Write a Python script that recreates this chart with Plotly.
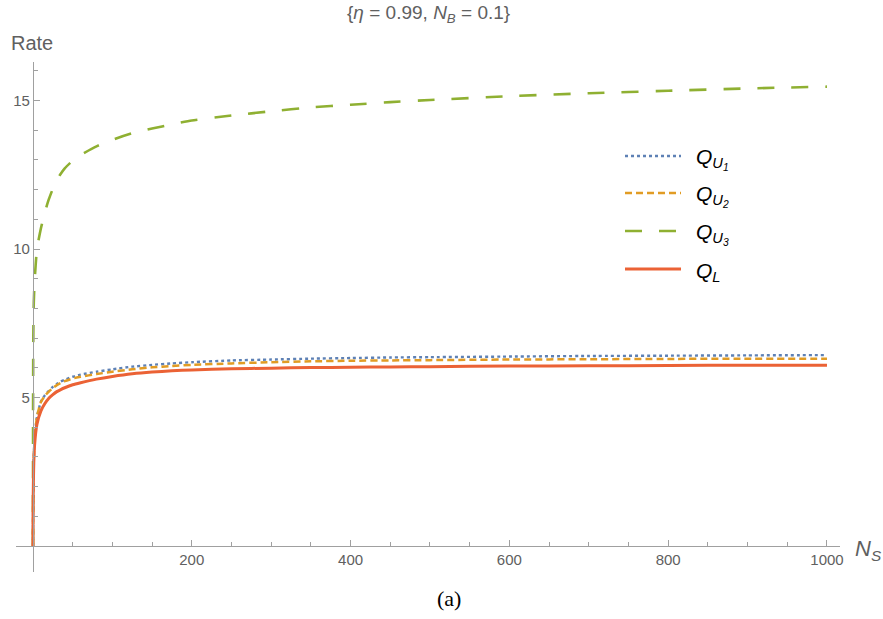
import plotly.graph_objects as go

# ---- data ----
ns = [0, 0.02, 0.1, 0.3, 0.6, 1, 2, 5, 10, 15, 20, 25, 30, 35, 40, 50, 60, 80, 100, 125, 150, 175,
      200, 250, 300, 350, 400, 450, 500, 600, 700, 800, 900, 1000]

q_u1 = [0, 0.45, 1.0, 1.8, 2.4, 2.9, 3.6, 4.35, 4.86, 5.08, 5.23, 5.36, 5.46, 5.54, 5.6, 5.7, 5.77, 5.87,
        5.95, 6.04, 6.1, 6.15, 6.19, 6.25, 6.28, 6.31, 6.33, 6.35, 6.36, 6.38, 6.40, 6.41, 6.42, 6.43]
q_u2 = [0, 0.45, 1.0, 1.8, 2.4, 2.9, 3.6, 4.35, 4.85, 5.06, 5.2, 5.32, 5.42, 5.49, 5.55, 5.64, 5.7, 5.79,
        5.87, 5.95, 6.02, 6.06, 6.1, 6.15, 6.19, 6.22, 6.24, 6.25, 6.26, 6.28, 6.29, 6.30, 6.31, 6.31]
q_u3 = [0, 2.0, 4.5, 6.6, 7.6, 8.2, 8.9, 10.0, 10.7, 11.25, 11.68, 12.03, 12.32, 12.54, 12.72, 12.98,
        13.17, 13.46, 13.68, 13.9, 14.06, 14.2, 14.33, 14.5, 14.64, 14.77, 14.86, 14.95, 15.02, 15.15,
        15.25, 15.33, 15.41, 15.47]
q_l = [0, 0.4, 0.9, 1.7, 2.3, 2.8, 3.4, 4.1, 4.55, 4.8, 4.98, 5.1, 5.2, 5.27, 5.33, 5.43, 5.5, 5.62,
       5.71, 5.8, 5.86, 5.9, 5.93, 5.97, 5.99, 6.01, 6.02, 6.03, 6.04, 6.06, 6.07, 6.08, 6.09, 6.09]

names = ["Q<sub>U<sub>1</sub></sub>", "Q<sub>U<sub>2</sub></sub>",
         "Q<sub>U<sub>3</sub></sub>", "Q<sub>L</sub>"]
series = [q_u1, q_u2, q_u3, q_l]

x_ticks = [200, 400, 600, 800, 1000]
x_minor = [50, 100, 150, 250, 300, 350, 450, 500, 550, 650, 700, 750, 850, 900, 950]
y_ticks = [5, 10, 15]
y_minor = [1, 2, 3, 4, 6, 7, 8, 9, 11, 12, 13, 14, 16]

# ---- styles ----
colors = ["#5E81B5", "#E19C24", "#8FB032", "#EB6235"]
dashes = ["3px,3px", "7px,4px", "17px,17px", "solid"]
widths = [2.4, 2.5, 2.6, 3.0]

FONT = "Liberation Sans, Arial, sans-serif"
GRAY = "#606060"
AX = "#A0A0A0"

fig = go.Figure()
for s, nm, c, d, w in zip(series, names, colors, dashes, widths):
    fig.add_trace(go.Scatter(x=ns, y=s, mode="lines", name=nm,
                             line=dict(color=c, dash=d, width=w, shape="spline", smoothing=0.5),
                             showlegend=False, hoverinfo="skip"))

W, H = 883, 619
L, R, T, B = 16, 43, 62, 47
xr = [-21.4, 1016.4]
yr = [-0.875, 16.3]
px_w = W - L - R
px_h = H - T - B

def px2paper(px, py):
    return (px - L) / px_w, (H - B - py) / px_h

ypos = (0 - xr[0]) / (xr[1] - xr[0])
xpos = (0 - yr[0]) / (yr[1] - yr[0])

fig.update_layout(
    width=W, height=H,
    margin=dict(l=L, r=R, t=T, b=B, pad=0),
    paper_bgcolor="white", plot_bgcolor="white",
    font=dict(family=FONT, color=GRAY, size=15),
    xaxis=dict(range=xr, showgrid=False, zeroline=False, showline=True, linecolor=AX,
               linewidth=1.2, anchor="free", position=xpos,
               tickmode="array", tickvals=x_ticks, ticks="inside", ticklen=6, tickcolor=AX,
               tickfont=dict(size=15, color=GRAY, family=FONT),
               minor=dict(tickmode="array", tickvals=x_minor, ticks="inside", ticklen=3.5,
                          tickcolor=AX)),
    yaxis=dict(range=yr, showgrid=False, zeroline=False, showline=True, linecolor=AX,
               linewidth=1.2, anchor="free", position=ypos,
               tickmode="array", tickvals=y_ticks, ticks="inside", ticklen=6, tickcolor=AX,
               tickfont=dict(size=15, color=GRAY, family=FONT),
               minor=dict(tickmode="array", tickvals=y_minor, ticks="inside", ticklen=3.5,
                          tickcolor=AX)),
    showlegend=False,
)

annotations = []
# title
tx, ty = px2paper(428, 14)
annotations.append(dict(x=tx, y=ty, xref="paper", yref="paper", showarrow=False,
                        text="{<i>η</i> = 0.99, <i>N</i><sub><i>B</i></sub> = 0.1}",
                        font=dict(size=19, color=GRAY, family=FONT),
                        xanchor="center", yanchor="middle"))
# axis labels
rx, ry = px2paper(9, 43)
annotations.append(dict(x=rx, y=ry, xref="paper", yref="paper", showarrow=False,
                        text="Rate", font=dict(size=20, color=GRAY, family=FONT),
                        xanchor="left", yanchor="middle"))
nx, ny = px2paper(853, 550)
annotations.append(dict(x=nx, y=ny, xref="paper", yref="paper", showarrow=False,
                        text="<i>N</i><sub><i>S</i></sub>", font=dict(size=22, color=GRAY, family=FONT),
                        xanchor="left", yanchor="middle"))
# caption
cx, cy = px2paper(449, 598)
annotations.append(dict(x=cx, y=cy, xref="paper", yref="paper", showarrow=False,
                        text="(a)", font=dict(size=22, color="black",
                                              family="Liberation Serif, DejaVu Serif, serif"),
                        xanchor="center", yanchor="middle"))

# manual legend
shapes = []
leg_y = [156, 193, 231, 269]
for nm, c, d, w, yy in zip(names, colors, dashes, widths, leg_y):
    x0, y0 = px2paper(625, yy)
    x1, _ = px2paper(681, yy)
    shapes.append(dict(type="line", xref="paper", yref="paper", x0=x0, x1=x1, y0=y0, y1=y0,
                       line=dict(color=c, dash=d, width=w)))
    lx, ly = px2paper(694, yy + 3)
    annotations.append(dict(x=lx, y=ly, xref="paper", yref="paper", showarrow=False,
                            text="<i>" + nm + "</i>", font=dict(size=21, color="black", family=FONT),
                            xanchor="left", yanchor="middle"))

fig.update_layout(annotations=annotations, shapes=shapes)
fig.write_html("out.html", config={"displayModeBar": False},
               post_script="document.body.style.margin='0';document.body.style.padding='0';")
